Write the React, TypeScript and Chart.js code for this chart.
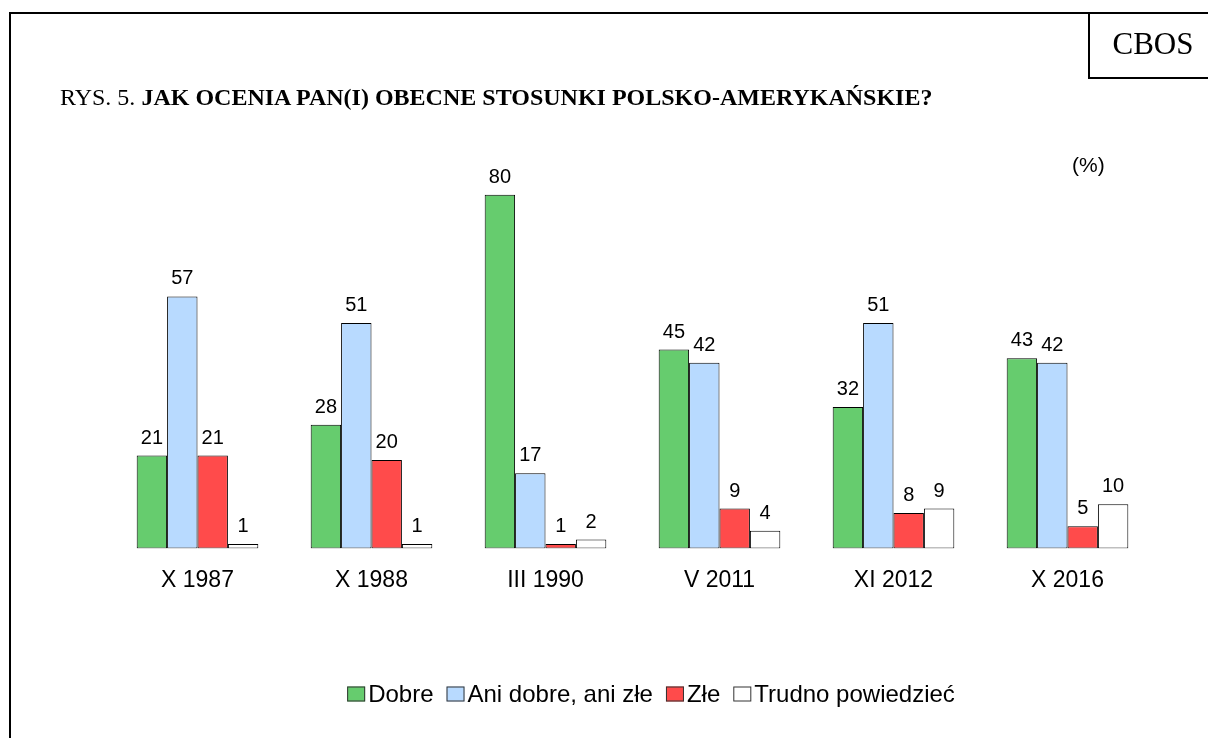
import React, { useEffect, useRef } from "react";
import { Chart, registerables } from "chart.js";

Chart.register(...registerables);

const categories = ["X 1987", "X 1988", "III 1990", "V 2011", "XI 2012", "X 2016"];
const dobre = [21, 28, 80, 45, 32, 43];
const aniDobreAniZle = [57, 51, 17, 42, 51, 42];
const zle = [21, 20, 1, 9, 8, 5];
const trudno = [1, 1, 2, 4, 9, 10];
const seriesLabels = ["Dobre", "Ani dobre, ani złe", "Złe", "Trudno powiedzieć"];
const seriesColors = ["#66CC6E", "#B8DAFF", "#FF4B4B", "#FFFFFF"];

const SANS = "'Liberation Sans', Arial, sans-serif";
const SERIF = "'Liberation Serif', 'Times New Roman', serif";

const valueLabels = {
  id: "valueLabels",
  afterDatasetsDraw(chart: any) {
    const ctx = chart.ctx;
    ctx.save();
    ctx.font = `20px ${SANS}`;
    ctx.fillStyle = "#000";
    ctx.textAlign = "center";
    ctx.textBaseline = "alphabetic";
    chart.data.datasets.forEach((ds: any, di: number) => {
      const meta = chart.getDatasetMeta(di);
      meta.data.forEach((bar: any, i: number) => {
        ctx.fillText(String(ds.data[i]), bar.x, bar.y - 12);
      });
    });
    ctx.restore();
  },
};

const customLegend = {
  id: "customLegend",
  afterDraw(chart: any) {
    const ctx = chart.ctx;
    ctx.save();
    ctx.font = `24px ${SANS}`;
    const boxW = 18;
    const boxH = 15;
    const gapBoxText = 3;
    const gapItems = 13;
    const items = chart.data.datasets.map((ds: any) => ({
      label: ds.label,
      color: ds.backgroundColor,
      w: ctx.measureText(ds.label).width,
    }));
    let total = 0;
    items.forEach((it: any, i: number) => {
      total += boxW + gapBoxText + it.w + (i < items.length - 1 ? gapItems : 0);
    });
    const cy = 694;
    let x = 651 - total / 2;
    ctx.textBaseline = "middle";
    ctx.textAlign = "left";
    items.forEach((it: any) => {
      ctx.fillStyle = it.color;
      ctx.fillRect(x, cy - boxH / 2, boxW, boxH);
      ctx.strokeStyle = "#333";
      ctx.lineWidth = 1;
      ctx.strokeRect(x + 0.5, cy - boxH / 2 + 0.5, boxW - 1, boxH - 1);
      ctx.fillStyle = "#000";
      ctx.fillText(it.label, x + boxW + gapBoxText, cy + 1);
      x += boxW + gapBoxText + it.w + gapItems;
    });
    ctx.restore();
  },
};

export default function App() {
  const ref = useRef<HTMLCanvasElement | null>(null);

  useEffect(() => {
    if (!ref.current) return;
    const series = [dobre, aniDobreAniZle, zle, trudno];
    const chart = new Chart(ref.current, {
      type: "bar",
      data: {
        labels: categories,
        datasets: series.map((d, i) => ({
          label: seriesLabels[i],
          data: d,
          backgroundColor: seriesColors[i],
          borderColor: "#000",
          borderWidth: 1,
          borderSkipped: false,
          categoryPercentage: 0.699,
          barPercentage: 1.0,
        })),
      },
      options: {
        animation: false,
        responsive: false,
        maintainAspectRatio: false,
        layout: { padding: { left: 110.5, right: 53.5, top: 150.6, bottom: 126 } },
        plugins: {
          legend: { display: false },
          tooltip: { enabled: false },
          title: { display: false },
        },
        scales: {
          x: {
            grid: { display: false, drawTicks: false },
            border: { display: false },
            ticks: {
              color: "#000",
              font: { family: SANS, size: 23 },
              padding: 18,
              maxRotation: 0,
            },
          },
          y: {
            display: false,
            min: 0,
            max: 90,
          },
        },
      },
      plugins: [valueLabels, customLegend],
    });
    return () => chart.destroy();
  }, []);

  return (
    <div
      style={{
        position: "fixed",
        left: 0,
        top: 0,
        width: 1208,
        height: 738,
        overflow: "hidden",
        background: "#fff",
      }}
    >
      <canvas ref={ref} width={1208} height={738} style={{ position: "absolute", left: 0, top: 0, width: 1208, height: 738 }} />
      <div
        style={{
          position: "absolute",
          left: 9,
          top: 12,
          width: 1400,
          height: 900,
          border: "2px solid #000",
          boxSizing: "border-box",
          pointerEvents: "none",
        }}
      />
      <div
        style={{
          position: "absolute",
          left: 1088,
          top: 12,
          width: 200,
          height: 67,
          borderLeft: "2px solid #000",
          borderBottom: "2px solid #000",
          boxSizing: "border-box",
        }}
      />
      <div
        style={{
          position: "absolute",
          left: 1090,
          top: 28,
          width: 126,
          textAlign: "center",
          fontFamily: SERIF,
          fontSize: 31,
          lineHeight: "31px",
          color: "#000",
        }}
      >
        CBOS
      </div>
      <div
        style={{
          position: "absolute",
          left: 60,
          top: 85,
          fontFamily: SERIF,
          fontSize: 24,
          lineHeight: "24px",
          color: "#000",
          whiteSpace: "nowrap",
        }}
      >
        RYS. 5. <b>JAK OCENIA PAN(I) OBECNE STOSUNKI POLSKO-AMERYKAŃSKIE?</b>
      </div>
      <div
        style={{
          position: "absolute",
          left: 1072,
          top: 153,
          fontFamily: SANS,
          fontSize: 21,
          lineHeight: "24px",
          color: "#000",
        }}
      >
        (%)
      </div>
    </div>
  );
}
